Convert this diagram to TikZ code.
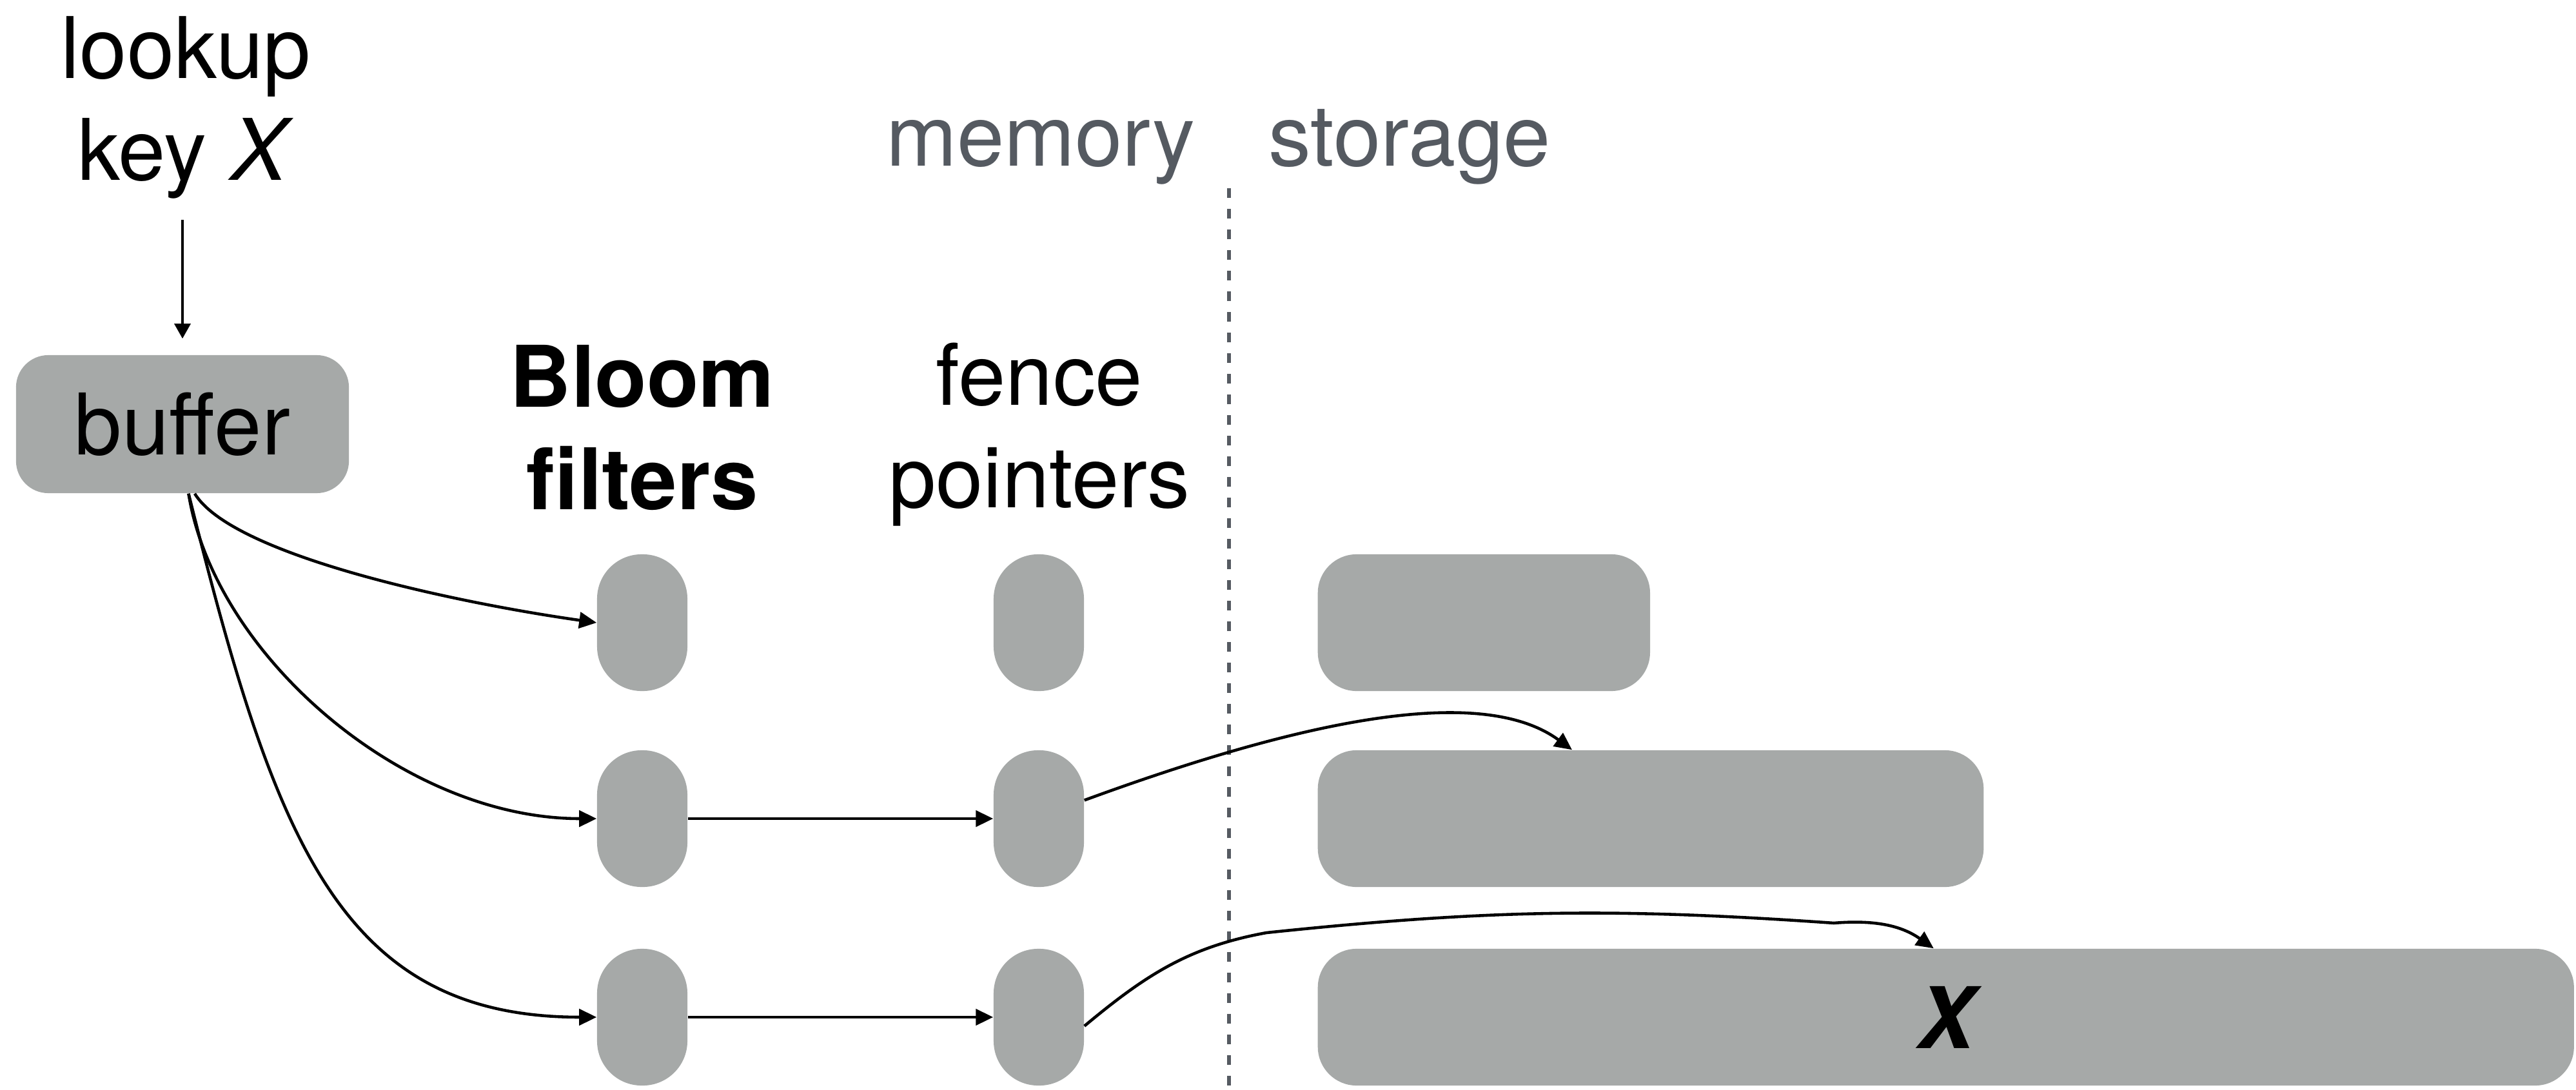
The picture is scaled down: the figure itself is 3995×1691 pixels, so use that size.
\documentclass[tikz,border=0pt]{standalone}
\usepackage{fontspec}
\setmainfont{TeX Gyre Heros}
\usetikzlibrary{arrows.meta}
\usetikzlibrary{calc}
\usepackage{xcolor}
\definecolor{blockgray}{RGB}{166,169,168}
\definecolor{labelgray}{RGB}{85,90,97}

\begin{document}
\begin{tikzpicture}[x=0.01cm,y=-0.01cm,
    font=\fontsize{37.5}{45}\selectfont,
    block/.style={fill=blockgray, draw=none, inner sep=0pt},
    pill/.style={block, minimum width=1.4cm, minimum height=2.12cm, rounded corners=0.69cm},
    run/.style={block, minimum height=2.12cm, rounded corners=0.6cm, anchor=west},
    link/.style={line width=1.3pt, -{Triangle[length=0.27cm,width=0.25cm]}}]
  \useasboundingbox (0,0) rectangle (3995,1691);

  % Headers
  \node[align=center, anchor=base] (lookup) at (288,280) {lookup\\key \textit{X}};
  \node[align=center, anchor=base, font=\fontsize{37.5}{45}\selectfont\bfseries] (bloomlbl) at (996,790) {Bloom\\filters};
  \node[align=center, anchor=base] (fencelbl) at (1612,787) {fence\\pointers};

  % Memory / storage split
  \node[anchor=base, text=labelgray] (memlbl) at (1614,258) {memory};
  \node[anchor=base, text=labelgray] (storlbl) at (2186,258) {storage};
  \draw[labelgray, line width=1.9pt, dash pattern=on 0.15cm off 0.17cm] (1906,292) -- (1906,1691);

  % Buffer
  \node[block, minimum width=5.16cm, minimum height=2.14cm, rounded corners=0.5cm] (buffer) at (283,658) {buffer};

  % Levels: Bloom filter, fence pointers, run
  \foreach \lvl/\y/\w in {1/966/5.15, 2/1270/10.32, 3/1578/19.47}
  {
    \node[pill] (bf\lvl) at (996,\y) {};
    \node[pill] (fp\lvl) at (1611,\y) {};
    \node[run, minimum width=\w cm] (run\lvl) at (2043,\y) {};
  }
  \node[font=\fontsize{37.5}{45}\selectfont\bfseries\itshape] (hit) at (run3) {X};

  % Lookup path
  \draw[line width=0.9pt, -{Triangle[length=0.23cm,width=0.25cm]}, shorten <=0.2cm, shorten >=0.25cm] (buffer.north |- lookup.south) -- (buffer.north);
  \draw[link] (buffer.-80) .. controls +(58,95) and +(-225,-32) .. (bf1.west);
  \draw[link] (buffer.-85) .. controls +(40,250) and +(-300,0) .. (bf2.west);
  \draw[link] (buffer.-85) .. controls +(133,534) and +(-400,0) .. (bf3.west);
  \draw[link] (bf2) -- (fp2);
  \draw[link] (bf3) -- (fp3);
  \draw[link] (fp2.22) .. controls +(300,-110) and +(-150,-110) .. ($(run2.north)+(-122,0)$);
  \draw[link] (fp3.-11) .. controls +(96,-80) and +(-120,22) .. (1964,1447)
    .. controls +(344,-36) and +(-343,-24) .. (2844,1432)
    .. controls +(62,-5) and +(-51,-36) .. ($(run3.north)+(-19,0)$);
\end{tikzpicture}
\end{document}
